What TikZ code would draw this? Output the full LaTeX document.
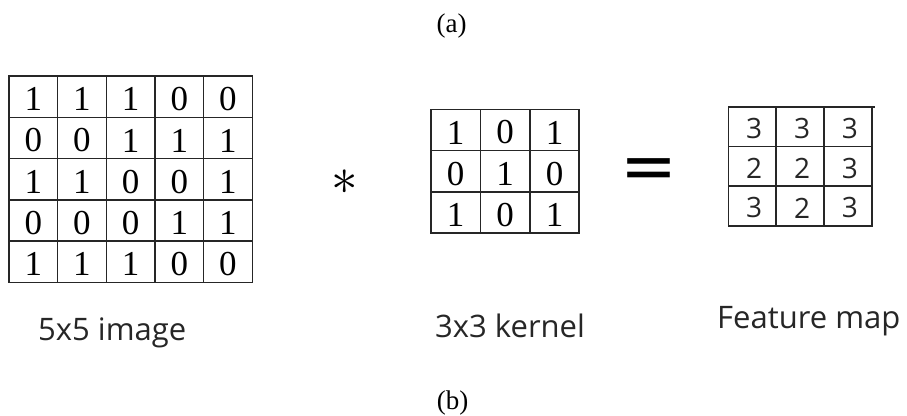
\documentclass[tikz,border=0pt]{standalone}
\usepackage{graphicx}
\usepackage{fontspec}
\setmainfont{Liberation Serif}
\newfontfamily\uisans{Open Sans}
\newfontfamily\eqfont{DejaVu Sans}
\begin{document}
\begin{tikzpicture}[x=1pt,y=-1pt,
  gridline/.style={line width=1.6pt, draw=black!85, line cap=rect},
  serifdigit/.style={inner sep=0pt, font=\fontsize{35}{40}\selectfont},
  sansdigit/.style={inner sep=0pt, font=\uisans\fontsize{28}{34}\selectfont, text=black!85},
  caption/.style={inner sep=0pt, anchor=base west, font=\uisans\fontsize{31}{36}\selectfont, text=black!85},
  sublabel/.style={inner sep=0pt, font=\fontsize{27}{32}\selectfont}]
\useasboundingbox (0,0) rectangle (907,415);

% sub-figure labels
\node[sublabel] (la) at (451.5,26) {(a)};
\node[sublabel] (lb) at (452.5,403) {(b)};

% ---------- 5x5 image ----------
\foreach \k in {0,...,5} {
  \draw[gridline] (9+48.66*\k,76) -- (9+48.66*\k,282.5);
  \draw[gridline] (9,76+41.3*\k) -- (252.3,76+41.3*\k);
}
\foreach \vals [count=\r] in {{1,1,1,0,0},{0,0,1,1,1},{1,1,0,0,1},{0,0,0,1,1},{1,1,1,0,0}} {
  \foreach \v [count=\c] in \vals {
    \node[serifdigit] (img-\r-\c) at (9+48.66*\c-24.33, 76+41.3*\r-20.65+2.5) {\v};
  }
}

% ---------- operator * ----------
\node[inner sep=0pt] (star) at (344.5,182.5) {\scalebox{5.3}{$\ast$}};

% ---------- 3x3 kernel ----------
\foreach \k in {0,...,3} {
  \draw[gridline] (431+49.43*\k,109.3) -- (431+49.43*\k,233.3);
  \draw[gridline] (431,109.3+41.33*\k) -- (579.3,109.3+41.33*\k);
}
\foreach \vals [count=\r] in {{1,0,1},{0,1,0},{1,0,1}} {
  \foreach \v [count=\c] in \vals {
    \node[serifdigit] (ker-\r-\c) at (431+49.43*\c-24.72, 109.3+41.33*\r-20.67+2.5) {\v};
  }
}

% ---------- equals ----------
\node[inner sep=0pt, font=\eqfont\fontsize{68}{68}\selectfont] (eq) at (649,174) {\raisebox{-0.25em}{=}};

% ---------- feature map ----------
\foreach \k in {0,...,3} {
  \draw[gridline] (728.3+47.8*\k,106.7) -- (728.3+47.8*\k,225.7);
  \draw[gridline] (728.3,106.7+39.67*\k) -- (871.7,106.7+39.67*\k);
}
\draw[gridline] (871.7,106.7) -- (874,106.7);
\foreach \vals [count=\r] in {{3,3,3},{2,2,3},{3,2,3}} {
  \foreach \v [count=\c] in \vals {
    \node[sansdigit] (fm-\r-\c) at (728.3+47.8*\c-23.9+2, 106.7+39.67*\r-19.83+2) {\v};
  }
}

% ---------- captions ----------
\node[caption] (cimg) at (38,340) {5x5 image};
\node[caption] (cker) at (435,337) {3x3 kernel};
\node[caption] (cfm) at (717,328) {Feature map};
\end{tikzpicture}
\end{document}
